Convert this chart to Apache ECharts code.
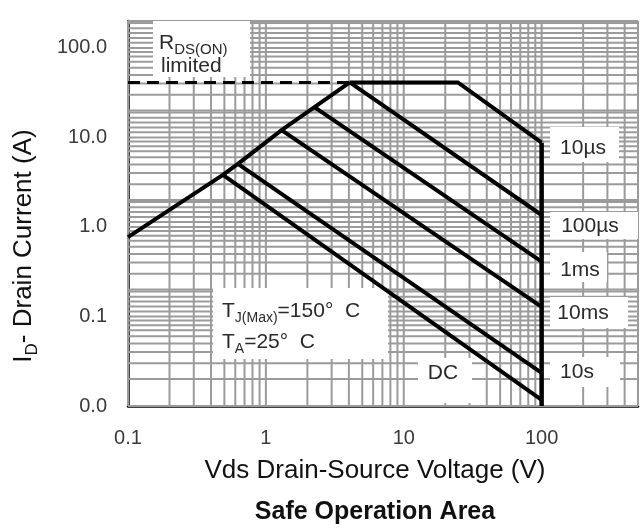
<!DOCTYPE html>
<html>
<head>
<meta charset="utf-8">
<script src="https://cdn.jsdelivr.net/npm/echarts@6.0.0/dist/echarts.min.js"></script>
<style>
  html, body { margin: 0; padding: 0; background: #fff; }
  #chart { width: 641px; height: 529px; }
</style>
</head>
<body>
<div id="chart"></div>
<script>
// Safe Operation Area: drain current vs drain-source voltage, log-log.

// Axis ranges and tick labels
const xRange = [0.1, 500];
const yRange = [0.01, 200];
const xTickValues = [0.1, 1, 10, 100];
const xTickLabels = ['0.1', '1', '10', '100'];
const yTickValues = [0.01, 0.1, 1, 10, 100];
const yTickLabels = ['0.0', '0.1', '1.0', '10.0', '100.0'];

// Boundary curves (V in volts, I in amperes)
const rdsLimitV = [0.1, 4.06];
const rdsLimitI = [41.2, 41.2];
const riseV = [0.1, 0.488, 0.627, 1.30, 2.25, 4.06];
const riseI = [0.77, 3.81, 5.06, 12.1, 21.8, 41.2];
const us10V = [4.06, 24.7, 100];
const us10I = [41.2, 41.2, 8.75];
const us100V = [4.06, 100];
const us100I = [41.2, 1.36];
const ms1V = [2.25, 100];
const ms1I = [21.8, 0.41];
const ms10V = [1.30, 100];
const ms10I = [12.1, 0.128];
const s10V = [0.627, 100];
const s10I = [5.06, 0.0234];
const dcV = [0.488, 100];
const dcI = [3.81, 0.0117];
const vdsMaxV = [100, 100];
const vdsMaxI = [8.75, 0.01];

// Grid lines: 1..9 in every decade, plus the fine lines just above each current decade
const gridSteps = [1, 2, 3, 4, 5, 6, 7, 8, 9];
const fineCurrentSteps = [1.14, 1.29, 1.47, 1.66, 1.9];
const xDecades = [0.1, 1, 10, 100];
const yDecades = [0.01, 0.1, 1, 10, 100];
const fineCurrentDecades = [0.1, 1, 10, 100];

const FONT = '"Liberation Sans", Arial, Helvetica, sans-serif';
const GRID_COLOR = '#9b9b9b';
const TEXT_COLOR = '#2a2a2a';

function zip(xs, ys) { return xs.map((x, i) => [x, ys[i]]); }
function gridValues(decades, steps, max) {
  const out = [];
  decades.forEach(d => steps.forEach(s => {
    const v = +(d * s).toPrecision(6);
    if (v <= max * 1.0000001) out.push(v);
  }));
  return out;
}
function tickLabel(values, labels, v) {
  for (let i = 0; i < values.length; i++) {
    if (Math.abs(Math.log10(v) - Math.log10(values[i])) < 1e-6) return labels[i];
  }
  return '';
}

const measureCtx = document.createElement('canvas').getContext('2d');
function textWidth(t, size, weight) {
  measureCtx.font = (weight || 'normal') + ' ' + size + 'px ' + FONT;
  return measureCtx.measureText(t).width;
}
// Row of text runs (for subscripts); dy shifts a run below the middle line
function textRow(x, y, parts, opt) {
  opt = opt || {};
  let total = 0;
  parts.forEach(p => { total += textWidth(p.text, p.size, p.weight); });
  let cx = opt.align === 'center' ? -total / 2 : 0;
  const children = parts.map(p => {
    const el = {
      type: 'text', x: cx, y: p.dy || 0, z: 20,
      style: {
        text: p.text, fontSize: p.size, fontFamily: FONT, fontWeight: p.weight || 'normal',
        fill: opt.color || TEXT_COLOR, align: 'left', verticalAlign: 'middle'
      }
    };
    cx += textWidth(p.text, p.size, p.weight);
    return el;
  });
  return { type: 'group', x: x, y: y, rotation: opt.rotation || 0, z: 20, silent: true, children: children };
}
function box(x, y, w, h) {
  return { type: 'rect', z: 10, silent: true, shape: { x: x, y: y, width: w, height: h }, style: { fill: '#fff' } };
}
function label(text, cx, cy) {
  return {
    type: 'text', x: cx, y: cy, z: 20, silent: true,
    style: { text: text, fontSize: 21, fontFamily: FONT, fill: TEXT_COLOR, align: 'center', verticalAlign: 'middle' }
  };
}

function curve(name, xs, ys, extra) {
  return Object.assign({
    name: name, type: 'line', data: zip(xs, ys), symbol: 'none', z: 30, silent: true,
    lineStyle: { color: '#000', width: 4, join: 'miter', cap: 'butt' }
  }, extra || {});
}

const vGrid = gridValues(xDecades, gridSteps, xRange[1]);
const hGrid = gridValues(yDecades, gridSteps, yRange[1])
  .concat(gridValues(fineCurrentDecades, fineCurrentSteps, yRange[1]));

const chart = echarts.init(document.getElementById('chart'), null, { renderer: 'canvas' });
chart.setOption({
  animation: false,
  backgroundColor: '#fff',
  grid: { left: 128, right: 3, top: 21, bottom: 123, containLabel: false, outerBoundsMode: 'none' },
  xAxis: {
    type: 'log', logBase: 10, min: xRange[0], max: xRange[1],
    axisLine: { show: true, onZero: false, lineStyle: { color: '#000', width: 2.5 } },
    axisTick: { show: false },
    splitLine: { show: false },
    axisLabel: {
      margin: 22, fontSize: 20, fontFamily: FONT, color: '#3a3a3a',
      showMinLabel: true, showMaxLabel: true,
      formatter: v => tickLabel(xTickValues, xTickLabels, v)
    }
  },
  yAxis: {
    type: 'log', logBase: 10, min: yRange[0], max: yRange[1],
    axisLine: { show: true, onZero: false, lineStyle: { color: '#000', width: 2.5 } },
    axisTick: { show: false },
    splitLine: { show: false },
    axisLabel: {
      margin: 21, fontSize: 20, fontFamily: FONT, color: '#3a3a3a',
      showMinLabel: true, showMaxLabel: true,
      formatter: v => tickLabel(yTickValues, yTickLabels, v)
    }
  },
  series: [
    {
      name: 'grid-v', type: 'custom', z: 1, silent: true,
      data: vGrid.map(v => [v, 1]),
      renderItem: (params, api) => {
        const v = api.value(0);
        const p1 = api.coord([v, yRange[0]]);
        const p2 = api.coord([v, yRange[1]]);
        return { type: 'line', shape: { x1: p1[0], y1: p1[1], x2: p2[0], y2: p2[1] },
                 style: { stroke: GRID_COLOR, lineWidth: 2 } };
      }
    },
    {
      name: 'grid-h', type: 'custom', z: 1, silent: true,
      data: hGrid.map(v => [1, v]),
      renderItem: (params, api) => {
        const v = api.value(1);
        const p1 = api.coord([xRange[0], v]);
        const p2 = api.coord([xRange[1], v]);
        return { type: 'line', shape: { x1: p1[0], y1: p1[1], x2: p2[0], y2: p2[1] },
                 style: { stroke: GRID_COLOR, lineWidth: 2 } };
      }
    },
    curve('RDS(ON) limit', rdsLimitV, rdsLimitI, {
      lineStyle: { color: '#000', width: 3, type: [12, 7] }
    }),
    curve('Rise', riseV, riseI),
    curve('10µs', us10V, us10I),
    curve('100µs', us100V, us100I),
    curve('1ms', ms1V, ms1I),
    curve('10ms', ms10V, ms10I),
    curve('10s', s10V, s10I),
    curve('DC', dcV, dcI),
    curve('VDS max', vdsMaxV, vdsMaxI, { lineStyle: { color: '#000', width: 4.5 } })
  ],
  graphic: [
    // RDS(ON) limited
    box(153, 21, 97, 56),
    textRow(159, 43, [{ text: 'R', size: 21 }, { text: 'DS(ON)', size: 15, dy: 7 }]),
    textRow(161, 66, [{ text: 'limited', size: 21 }]),
    // Temperature conditions
    box(213, 288, 175, 71),
    textRow(222, 311, [{ text: 'T', size: 21 }, { text: 'J(Max)', size: 14, dy: 7 }, { text: '=150°  C', size: 21 }]),
    textRow(222, 342, [{ text: 'T', size: 21 }, { text: 'A', size: 14, dy: 7 }, { text: '=25°  C', size: 21 }]),
    // Pulse width labels
    box(550, 127, 69, 35), label('10µs', 583, 148),
    box(550, 212, 88, 27), label('100µs', 590, 226),
    box(550, 252, 57, 30), label('1ms', 580, 270),
    box(550, 297, 78, 31), label('10ms', 583, 313),
    box(550, 357, 70, 30), label('10s', 577, 372),
    box(418, 358, 54, 45), label('DC', 443, 373),
    // Axis titles
    textRow(24, 246, [{ text: 'I', size: 26 }, { text: 'D', size: 17, dy: 8 }, { text: '- Drain Current (A)', size: 26 }],
            { align: 'center', rotation: Math.PI / 2, color: '#111' }),
    textRow(375, 471, [{ text: 'Vds Drain-Source Voltage (V)', size: 26 }], { align: 'center', color: '#111' }),
    textRow(375, 512, [{ text: 'Safe Operation Area', size: 25, weight: 'bold' }], { align: 'center', color: '#111' })
  ]
});
</script>
</body>
</html>
